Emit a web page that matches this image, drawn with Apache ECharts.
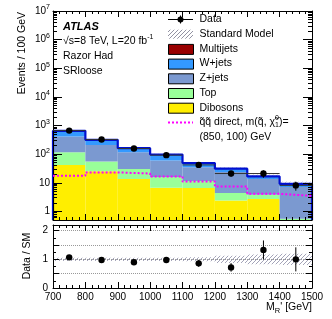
<!DOCTYPE html>
<html><head><meta charset="utf-8">
<script src="https://cdn.jsdelivr.net/npm/echarts@6/dist/echarts.min.js"></script>
<style>html,body{margin:0;padding:0;background:#fff}#c{width:332px;height:319px}</style>
</head><body><div id="c"></div>
<script>
// ---------- data ----------
const binEdges  = [700, 800, 900, 1000, 1100, 1200, 1300, 1400, 1500];
const dibosons  = [42, 25, 13.5, 6.7, 6.5, 2.4, 2.7, 0.3];
const topQuark  = [75, 30, 16.5, 9.1, 5.0, 2.0, 1.1, 0.25];
const zjets     = [293, 155, 87, 44, 23.5, 19.2, 9.7, 6.55];
const wjets     = [240, 106, 45, 37, 14, 7.4, 3.1, 2.1];
const multijets = [0.4, 0.2, 0.1, 0.08, 0.05, 0.03, 0.02, 0.01];
const signal    = [17.5, 23, 21, 16.6, 11, 7.4, 4.1, 3.5];
const dataVals  = [664, 323, 157, 92, 42, 21, 21, 8.1];
const dataErr   = [26, 18, 13, 10, 6.5, 4.6, 6, 2.8];
const ratioVals = [1.07, 0.98, 0.90, 0.98, 0.86, 0.72, 1.33, 1.00];
const ratioErr  = [0.04, 0.06, 0.08, 0.10, 0.12, 0.15, 0.33, 0.42];
const smRelUnc  = [0.06, 0.06, 0.06, 0.06, 0.07, 0.13, 0.17, 0.20];
const ratioTickLabels = ['0', '1', '2'];

// ---------- helpers ----------
const FONT = '"Liberation Sans", Arial, Helvetica, "DejaVu Sans", sans-serif';
const Y_MIN = 0.5, Y_MAX = 1e7;
const nb = dibosons.length;

function hatch(color, bg) {
  const c = document.createElement('canvas');
  c.width = c.height = 4;
  const g = c.getContext('2d');
  if (bg) { g.fillStyle = bg; g.fillRect(0, 0, 4, 4); }
  g.strokeStyle = color; g.lineWidth = 0.9;
  g.beginPath();
  g.moveTo(0, 4); g.lineTo(4, 0);
  g.moveTo(-1, 1); g.lineTo(1, -1);
  g.moveTo(3, 5); g.lineTo(5, 3);
  g.stroke();
  return { image: c, repeat: 'repeat' };
}
const hatchMain = hatch('rgba(120,120,140,0.4)', null);
const hatchRatio = hatch('rgba(120,120,150,0.75)', null);
const hatchFillLegend = hatch('rgba(120,120,140,0.9)', null);

const components = [
  { name: 'Dibosons', vals: dibosons, color: '#ffee00' },
  { name: 'Top', vals: topQuark, color: '#99ff99' },
  { name: 'Z+jets', vals: zjets, color: '#7b99d0' },
  { name: 'W+jets', vals: wjets, color: '#3399ff' },
  { name: 'Multijets', vals: multijets, color: '#990000' }
];

const cum = new Array(nb).fill(0);
const stackSeries = components.map((c, k) => {
  const items = [];
  for (let i = 0; i < nb; i++) {
    const lo = cum[i], hi = cum[i] + c.vals[i];
    items.push([binEdges[i], binEdges[i + 1], lo, hi]);
    cum[i] = hi;
  }
  return {
    type: 'custom', name: c.name, xAxisIndex: 0, yAxisIndex: 0, z: 2, clip: true,
    encode: { x: [0, 1], y: [2, 3] }, data: items,
    renderItem: (params, api) => {
      const lo = Math.max(api.value(2), Y_MIN), hi = Math.max(api.value(3), Y_MIN);
      if (hi <= lo) return null;
      const p0 = api.coord([api.value(0), hi]), p1 = api.coord([api.value(1), lo]);
      return { type: 'rect', shape: { x: p0[0], y: p0[1], width: p1[0] - p0[0], height: p1[1] - p0[1] },
               style: { fill: c.color } };
    }
  };
});
const total = cum.slice();

const totalLine = [[binEdges[0], Y_MIN]];
for (let i = 0; i < nb; i++) totalLine.push([binEdges[i], total[i]]);
totalLine.push([binEdges[nb], total[nb - 1]]);
totalLine.push([binEdges[nb], Y_MIN]);

const signalLine = [];
for (let i = 0; i < nb; i++) signalLine.push([binEdges[i], signal[i]]);
signalLine.push([binEdges[nb], signal[nb - 1]]);

const bandMain = [], bandRatio = [], dataItems = [], ratioItems = [];
for (let i = 0; i < nb; i++) {
  bandMain.push([binEdges[i], binEdges[i + 1], total[i] * (1 - smRelUnc[i]), total[i] * (1 + smRelUnc[i])]);
  bandRatio.push([binEdges[i], binEdges[i + 1], 1 - smRelUnc[i], 1 + smRelUnc[i]]);
  const xc = (binEdges[i] + binEdges[i + 1]) / 2;
  dataItems.push([xc, dataVals[i], dataErr[i], binEdges[i], binEdges[i + 1]]);
  ratioItems.push([xc, ratioVals[i], ratioErr[i]]);
}

function bandRender(fill) {
  return (params, api) => {
    const p0 = api.coord([api.value(0), api.value(3)]), p1 = api.coord([api.value(1), api.value(2)]);
    return { type: 'rect', shape: { x: p0[0], y: p0[1], width: p1[0] - p0[0], height: p1[1] - p0[1] },
             style: { fill: fill } };
  };
}
function pointRender(withX) {
  return (params, api) => {
    const x = api.value(0), y = api.value(1), e = api.value(2);
    const c = api.coord([x, y]), cu = api.coord([x, y + e]), cd = api.coord([x, Math.max(y - e, 1e-3)]);
    const ch = [
      { type: 'line', shape: { x1: c[0], y1: cu[1], x2: c[0], y2: cd[1] }, style: { stroke: '#000', lineWidth: 1 } }
    ];
    if (withX) {
      const a = api.coord([api.value(3), y]), b = api.coord([api.value(4), y]);
      ch.push({ type: 'line', shape: { x1: a[0], y1: c[1], x2: b[0], y2: c[1] }, style: { stroke: '#333', lineWidth: 1 } });
    }
    ch.push({ type: 'circle', shape: { cx: c[0], cy: c[1], r: 3.2 }, style: { fill: '#000' } });
    return { type: 'group', children: ch };
  };
}

const L = 53, W = 259;
function xAx(grid, pos, labels) {
  return {
    type: 'value', gridIndex: grid, position: pos, min: 700, max: 1500, interval: 100, z: 5,
    axisLine: { show: true, onZero: false, lineStyle: { color: '#000', width: 1 } },
    axisTick: { show: true, inside: true, length: 6, lineStyle: { color: '#000' } },
    minorTick: { show: true, splitNumber: 5, length: 3, lineStyle: { color: '#000' } },
    splitLine: { show: false },
    axisLabel: { show: labels, color: '#000', fontFamily: FONT, fontSize: 10, margin: 4,
                 formatter: v => String(v) }
  };
}
const sup = { fontSize: 7, fontFamily: FONT, color: '#000', padding: [0, 0, 7, 0] };
function yLog(pos, labels) {
  return {
    type: 'log', logBase: 10, gridIndex: 0, position: pos, min: Y_MIN, max: Y_MAX, splitNumber: 8, z: 5,
    axisLine: { show: true, lineStyle: { color: '#000', width: 1 } },
    axisTick: { show: true, inside: true, length: 9, lineStyle: { color: '#000' } },
    minorTick: { show: true, splitNumber: 9, length: 4, lineStyle: { color: '#000' } },
    splitLine: { show: false },
    axisLabel: {
      show: labels, margin: 3, color: '#000', fontFamily: FONT, fontSize: 10,
      rich: { s: sup },
      formatter: v => {
        const e = Math.log10(v);
        if (Math.abs(e - Math.round(e)) > 1e-6) return '';
        const n = Math.round(e);
        if (n === 0) return '1';
        if (n === 1) return '10';
        return '10{s|' + n + '}';
      }
    }
  };
}
function yRat(pos, labels) {
  return {
    type: 'value', gridIndex: 1, position: pos, min: 0, max: 2.2, interval: 0.5, z: 5,
    axisLine: { show: true, lineStyle: { color: '#000', width: 1 } },
    axisTick: { show: true, inside: true, length: 6, lineStyle: { color: '#000' } },
    minorTick: { show: true, splitNumber: 2, length: 3, lineStyle: { color: '#000' } },
    splitLine: labels ? { show: true, showMinLine: false, showMaxLine: false,
                          lineStyle: { color: '#999', type: [1, 1], width: 1 } } : { show: false },
    axisLabel: {
      show: labels, margin: 5, color: '#000', fontFamily: FONT, fontSize: 10,
      formatter: v => {
        if (Math.abs(v - Math.round(v)) > 1e-6) return '';
        return ratioTickLabels[Math.round(v)] || '';
      }
    }
  };
}

// ---------- legend (graphic) ----------
const LX = 168, LW = 25, TX = 199.5, rowY = i => 19.5 + 14.7 * i;
const txt = (x, y, s, extra) => ({ type: 'text', x: x, y: y, z: 20,
  style: Object.assign({ text: s, fill: '#000', font: '10.5px ' + FONT, verticalAlign: 'middle', align: 'left' }, extra || {}) });
const graphics = [];
graphics.push({ type: 'line', z: 20, shape: { x1: LX, y1: rowY(0), x2: LX + LW, y2: rowY(0) }, style: { stroke: '#000', lineWidth: 1 } });
graphics.push({ type: 'line', z: 20, shape: { x1: LX + LW / 2, y1: rowY(0) - 4, x2: LX + LW / 2, y2: rowY(0) + 4 }, style: { stroke: '#000', lineWidth: 1 } });
graphics.push({ type: 'circle', z: 21, shape: { cx: LX + LW / 2, cy: rowY(0), r: 3 }, style: { fill: '#000' } });
graphics.push(txt(TX, rowY(0), 'Data'));
graphics.push({ type: 'rect', z: 20, shape: { x: LX, y: rowY(1) - 4.5, width: LW, height: 9 }, style: { fill: hatchFillLegend } });
graphics.push(txt(TX, rowY(1), 'Standard Model'));
const legendOrder = [4, 3, 2, 1, 0];
legendOrder.forEach((k, j) => {
  const y = rowY(2 + j);
  graphics.push({ type: 'rect', z: 20, shape: { x: LX + 0.5, y: y - 4.5, width: LW, height: 10 },
                  style: { fill: components[k].color, stroke: '#000', lineWidth: 1 } });
  graphics.push(txt(TX, y, components[k].name));
});
graphics.push({ type: 'line', z: 20, shape: { x1: LX, y1: rowY(7), x2: LX + LW, y2: rowY(7) },
                style: { stroke: '#ff00ff', lineWidth: 2, lineDash: [2, 2] } });
graphics.push(txt(TX, rowY(7), 'q\u0303q\u0303 direct, m(q\u0303, \u03c7\u0303{s|0}{b|1})=', {
  rich: { s: { fontSize: 7, fontFamily: FONT, padding: [0, 0, 8, 0], width: 0 },
          b: { fontSize: 7, fontFamily: FONT, padding: [6, 0, 0, 0] } } }));
graphics.push(txt(TX, rowY(8), '(850, 100) GeV'));

graphics.push(txt(63, 27, 'ATLAS', { font: 'italic bold 11px ' + FONT }));
graphics.push(txt(63, 41.5, '\u221as=8 TeV, L=20 fb{s|-1}', { rich: { s: { fontSize: 7, fontFamily: FONT, padding: [0, 0, 8, 0] } } }));
graphics.push(txt(63, 56.5, 'Razor Had'));
graphics.push(txt(63, 71, 'SRloose'));
graphics.push({ type: 'text', x: 22, y: 12, rotation: Math.PI / 2, z: 20,
  style: { text: 'Events / 100 GeV', fill: '#000', font: '10.5px ' + FONT, align: 'right', verticalAlign: 'middle' } });
graphics.push({ type: 'text', x: 27.5, y: 256, rotation: Math.PI / 2, z: 20,
  style: { text: 'Data / SM', fill: '#000', font: '10.5px ' + FONT, align: 'center', verticalAlign: 'middle' } });
graphics.push(txt(312, 307, "M{b|R}' [GeV]", { align: 'right',
  rich: { b: { fontSize: 7.5, fontFamily: FONT, padding: [8, 0, 0, 0] } } }));

// ---------- chart ----------
const chart = echarts.init(document.getElementById('c'), null, { renderer: 'canvas' });
chart.setOption({
  animation: false,
  backgroundColor: '#fff',
  textStyle: { fontFamily: FONT },
  grid: [
    { left: L, top: 11, width: W, height: 209, show: false },
    { left: L, top: 225, width: W, height: 63, show: false }
  ],
  xAxis: [xAx(0, 'bottom', false), xAx(0, 'top', false), xAx(1, 'bottom', true), xAx(1, 'top', false)],
  yAxis: [yLog('left', true), yLog('right', false), yRat('left', true), yRat('right', false)],
  graphic: graphics,
  series: stackSeries.concat([
    { type: 'custom', name: 'SM unc', xAxisIndex: 0, yAxisIndex: 0, z: 3, clip: true,
      encode: { x: [0, 1], y: [2, 3] }, data: bandMain, renderItem: bandRender(hatchMain) },
    { type: 'line', name: 'Standard Model', xAxisIndex: 0, yAxisIndex: 0, z: 4, step: 'end',
      data: totalLine, symbol: 'none', lineStyle: { color: '#0010d0', width: 2.2 } },
    { type: 'line', name: 'signal', xAxisIndex: 0, yAxisIndex: 0, z: 5, step: 'end',
      data: signalLine, symbol: 'none', lineStyle: { color: '#ff00ff', width: 2, type: [2, 2] } },
    { type: 'custom', name: 'Data', xAxisIndex: 0, yAxisIndex: 0, z: 6, clip: true,
      encode: { x: 0, y: 1 }, data: dataItems, renderItem: pointRender(true) },
    { type: 'custom', name: 'ratio unc', xAxisIndex: 2, yAxisIndex: 2, z: 3, clip: true,
      encode: { x: [0, 1], y: [2, 3] }, data: bandRatio, renderItem: bandRender(hatchRatio) },
    { type: 'custom', name: 'ratio', xAxisIndex: 2, yAxisIndex: 2, z: 6, clip: true,
      encode: { x: 0, y: 1 }, data: ratioItems, renderItem: pointRender(false) }
  ])
});
</script>
</body></html>
